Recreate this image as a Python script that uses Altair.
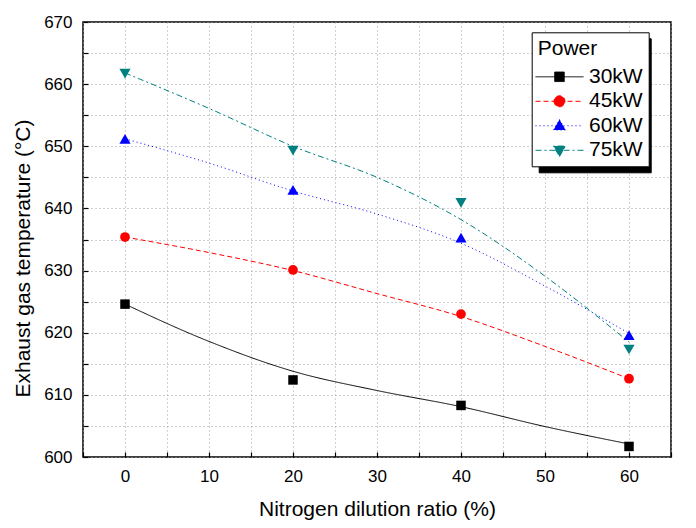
import altair as alt
import pandas as pd

# ---------------- data ----------------
series = ["30kW", "45kW", "60kW", "75kW"]
colors = ["#000000", "#FF0000", "#0000FF", "#008080"]
dashes = [[1, 0], [5, 3], [1, 3], [6, 3, 2, 3]]
marker_shapes = ["square", "circle", "triangle-up", "triangle-down"]
marker_sizes = [90, 95, 125, 125]

dilution = [0, 20, 40, 60]
temp_30 = [624.6, 612.4, 608.3, 601.7]
temp_45 = [635.4, 630.1, 623.0, 612.6]
temp_60 = [651.2, 643.0, 635.3, 619.6]
temp_75 = [661.7, 649.3, 640.9, 617.3]

# fitted curves
fit_x = [0, 10, 20, 30, 40, 50, 60]
fit_30 = [624.6, 618.6, 613.8, 610.7, 608.1, 604.9, 602.1]
fit_45 = [635.4, 632.9, 630.0, 626.3, 622.6, 617.8, 612.6]
fit_60 = [651.2, 647.3, 642.8, 639.1, 634.4, 627.5, 619.9]
fit_75 = [661.8, 656.1, 650.0, 645.0, 638.2, 629.1, 618.5]

x_ticks = list(range(-5, 70, 5))
y_ticks = list(range(600, 675, 5))

# legend symbols: a line segment with the marker in its middle
legend_paths = [
    "M-4.8,0H4.8M-0.95,-0.95H0.95V0.95H-0.95Z",
    "M-4.8,0H4.8M-1.1,0A1.1,1.1,0,1,0,1.1,0A1.1,1.1,0,1,0,-1.1,0Z",
    "M-4.8,0H4.8M0,-1.25L1.2,0.85L-1.2,0.85Z",
    "M-4.8,0H4.8M0,1.25L1.2,-0.85L-1.2,-0.85Z",
]

# ---------------- tables ----------------
point_vals = [temp_30, temp_45, temp_60, temp_75]
fit_vals = [fit_30, fit_45, fit_60, fit_75]
pts_df = pd.DataFrame(
    [{"Power": s, "Shadow": s, "x": x, "y": v}
     for s, vals in zip(series, point_vals) for x, v in zip(dilution, vals)]
)
fit_df = pd.DataFrame(
    [{"Power": s, "x": x, "y": v}
     for s, vals in zip(series, fit_vals) for x, v in zip(fit_x, vals)]
)

FONT = "Liberation Sans"

x_enc = alt.X(
    "x:Q",
    title="Nitrogen dilution ratio (%)",
    scale=alt.Scale(domain=[-5, 65], nice=False, zero=False),
    axis=alt.Axis(
        values=x_ticks,
        labelExpr="datum.value % 10 === 0 ? datum.label : ''",
        offset=-5, domain=False, tickSize=5, tickColor="black", tickWidth=1.2,
        labelPadding=11, labelFontSize=17, labelFlush=False, labelOverlap=False,
        titleFontSize=21, titlePadding=14,
        grid=True, gridColor="#a0a0a0", gridDash=[1, 3], gridWidth=1,
    ),
)
y_enc = alt.Y(
    "y:Q",
    title="Exhaust gas temperature (°C)",
    scale=alt.Scale(domain=[600, 670], nice=False, zero=False),
    axis=alt.Axis(
        values=y_ticks,
        labelExpr="datum.value % 10 === 0 ? datum.label : ''",
        offset=-5, domain=False, tickSize=5, tickColor="black", tickWidth=1.2,
        labelPadding=11, labelFontSize=17, labelFlush=False, labelOverlap=False,
        titleFontSize=21, titlePadding=10, titleY=236,
        grid=True, gridColor="#a0a0a0", gridDash=[1, 3], gridWidth=1,
    ),
)

line_layers = [
    alt.Chart(fit_df).transform_filter(alt.datum.Power == s)
    .mark_line(strokeWidth=1, interpolate="monotone", color=c, strokeDash=d)
    .encode(x=x_enc, y=y_enc)
    for s, c, d in zip(series, colors, dashes)
]

point_layers = [
    alt.Chart(pts_df).transform_filter(alt.datum.Power == s)
    .mark_point(filled=True, shape=sh, size=sz, color=c, opacity=1)
    .encode(x=x_enc, y=y_enc)
    for s, sh, sz, c in zip(series, marker_shapes, marker_sizes, colors)
]

LX, LY = 448.7, 10.3
leg_common = dict(
    title="Power", orient="none", legendX=LX, legendY=LY,
    fillColor="white", strokeColor="black", padding=6,
    symbolOffset=11.3, labelOffset=19, rowPadding=2.5, titlePadding=7,
    symbolOpacity=1, symbolStrokeWidth=1, zindex=2,
    labelFontSize=21, titleFontSize=21, titleFontWeight="normal",
    labelColor="black", titleColor="black", labelFont=FONT, titleFont=FONT,
)

legend_layer = alt.Chart(pts_df).mark_point(
    filled=True, size=100, opacity=0, strokeWidth=1
).encode(
    x=x_enc, y=y_enc,
    fill=alt.Fill("Power:N", scale=alt.Scale(domain=series, range=colors),
                  legend=alt.Legend(**leg_common)),
    stroke=alt.Stroke("Power:N", scale=alt.Scale(domain=series, range=colors),
                      legend=alt.Legend(**leg_common)),
    shape=alt.Shape("Power:N", scale=alt.Scale(domain=series, range=legend_paths),
                    legend=alt.Legend(**leg_common)),
    strokeDash=alt.StrokeDash("Power:N", scale=alt.Scale(domain=series, range=dashes),
                              legend=alt.Legend(**leg_common)),
)

# drop shadow behind the legend box: a second, blank legend of the same size
shadow_common = dict(leg_common)
shadow_common.update(
    title=" ", labelExpr="' '", labelOffset=19 + 53.7 - 5.8,
    legendX=LX + 7, legendY=LY + 6, fillColor="black", strokeColor="black",
    symbolOpacity=0, zindex=1,
)
shadow_layer = alt.Chart(pts_df).mark_point(
    filled=True, size=100, opacity=0, strokeWidth=1, shape=legend_paths[0]
).encode(
    x=x_enc, y=y_enc,
    color=alt.Color("Shadow:N", scale=alt.Scale(range=["black"] * 4),
                    legend=alt.Legend(**shadow_common)),
)

chart = alt.layer(shadow_layer, *line_layers, *point_layers, legend_layer).properties(
    width=588, height=435,
    autosize=alt.AutoSizeParams(type="none"),
    padding={"left": 75, "top": 14, "right": 17, "bottom": 66},
).configure_view(
    stroke="black", strokeWidth=1.5
).configure_axis(
    labelFont=FONT, titleFont=FONT, labelColor="black", titleColor="black",
    titleFontWeight="normal",
).configure_legend(
    labelFont=FONT, titleFont=FONT,
)

chart.save("out.html", embed_options={"renderer": "svg", "actions": False})
